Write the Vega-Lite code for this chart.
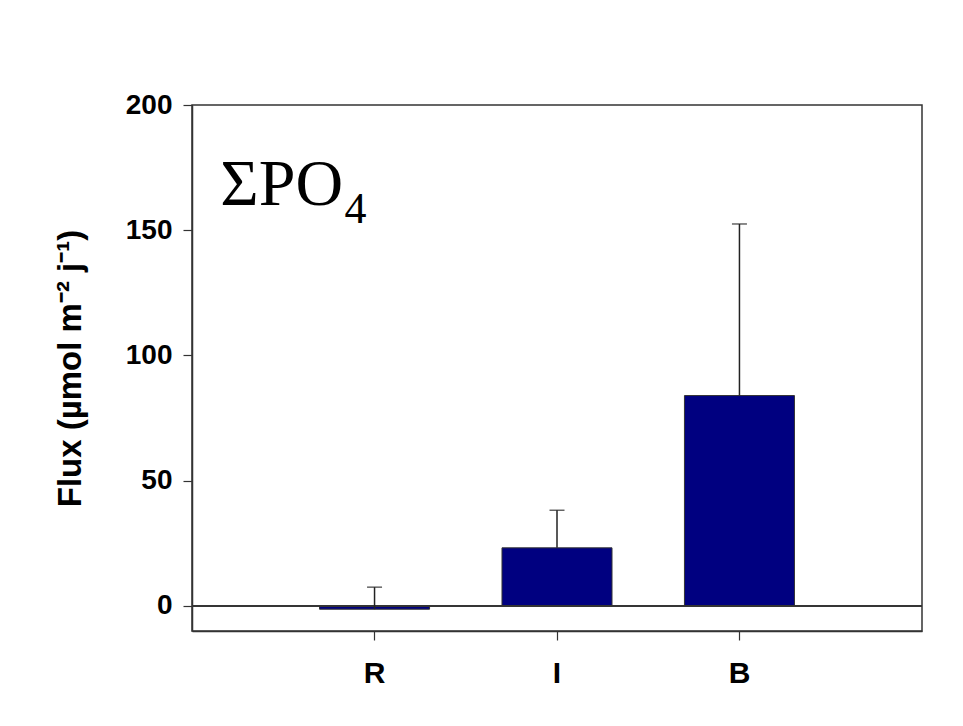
{
  "$schema": "https://vega.github.io/schema/vega-lite/v6.json",
  "width": 730,
  "height": 526,
  "autosize": {"type": "none"},
  "padding": {"left": 192, "top": 105, "right": 41, "bottom": 95},
  "background": "white",
  "config": {
    "font": "Liberation Sans",
    "view": {"stroke": "#333333", "strokeWidth": 1.5}
  },
  "layer": [
    {
      "data": {
        "values": [
          {"site": "R", "flux": -1.3, "flux_upper": 7.5},
          {"site": "I", "flux": 23.2, "flux_upper": 38.2},
          {"site": "B", "flux": 84.0, "flux_upper": 152.5}
        ]
      },
      "encoding": {
        "x": {
          "field": "site",
          "type": "nominal",
          "sort": null,
          "scale": {"paddingInner": 0.397, "paddingOuter": 0.699},
          "axis": {
            "title": null,
            "labelAngle": 0,
            "labelFontSize": 30,
            "labelFontWeight": "bold",
            "labelColor": "black",
            "labelPadding": 18,
            "tickSize": 9,
            "tickColor": "#333333",
            "tickWidth": 1.2,
            "domainColor": "#333333",
            "domainWidth": 1.5
          }
        },
        "y": {
          "field": "flux",
          "type": "quantitative",
          "scale": {"domain": [-10, 200], "nice": false, "zero": false},
          "axis": {
            "values": [0, 50, 100, 150, 200],
            "grid": false,
            "title": "Flux (µmol m⁻² j⁻¹)",
            "titleFontSize": 33,
            "titleFontWeight": "bold",
            "titleColor": "black",
            "titlePadding": 38,
            "labelFontSize": 28,
            "labelFontWeight": "bold",
            "labelColor": "black",
            "labelPadding": 11,
            "tickSize": 9,
            "tickColor": "#333333",
            "tickWidth": 1.2,
            "domainColor": "#333333",
            "domainWidth": 1.5
          }
        }
      },
      "layer": [
        {
          "mark": {"type": "bar", "color": "#000080", "stroke": "#333333", "strokeWidth": 1}
        },
        {
          "mark": {"type": "rule", "color": "#333333", "strokeWidth": 1.5},
          "encoding": {"x": null, "y": {"datum": 0}}
        },
        {
          "mark": {"type": "rule", "color": "#222222", "strokeWidth": 1.5},
          "encoding": {"y2": {"field": "flux_upper"}}
        },
        {
          "mark": {"type": "tick", "color": "#222222", "size": 15, "thickness": 1.5},
          "encoding": {"y": {"field": "flux_upper", "type": "quantitative"}}
        }
      ]
    },
    {
      "data": {"values": [{"label": "ΣPO"}]},
      "mark": {"type": "text", "font": "Liberation Serif", "fontSize": 66, "align": "left", "baseline": "alphabetic", "color": "black"},
      "encoding": {
        "x": {"datum": 0.155, "type": "quantitative", "scale": {"domain": [0, 4]}, "axis": null},
        "y": {"datum": 160, "type": "quantitative"},
        "text": {"field": "label"}
      }
    },
    {
      "data": {"values": [{"label": "4"}]},
      "mark": {"type": "text", "font": "Liberation Serif", "fontSize": 44, "align": "left", "baseline": "alphabetic", "color": "black"},
      "encoding": {
        "x": {"datum": 0.835, "type": "quantitative", "scale": {"domain": [0, 4]}, "axis": null},
        "y": {"datum": 153, "type": "quantitative"},
        "text": {"field": "label"}
      }
    }
  ],
  "resolve": {"scale": {"x": "independent"}}
}
